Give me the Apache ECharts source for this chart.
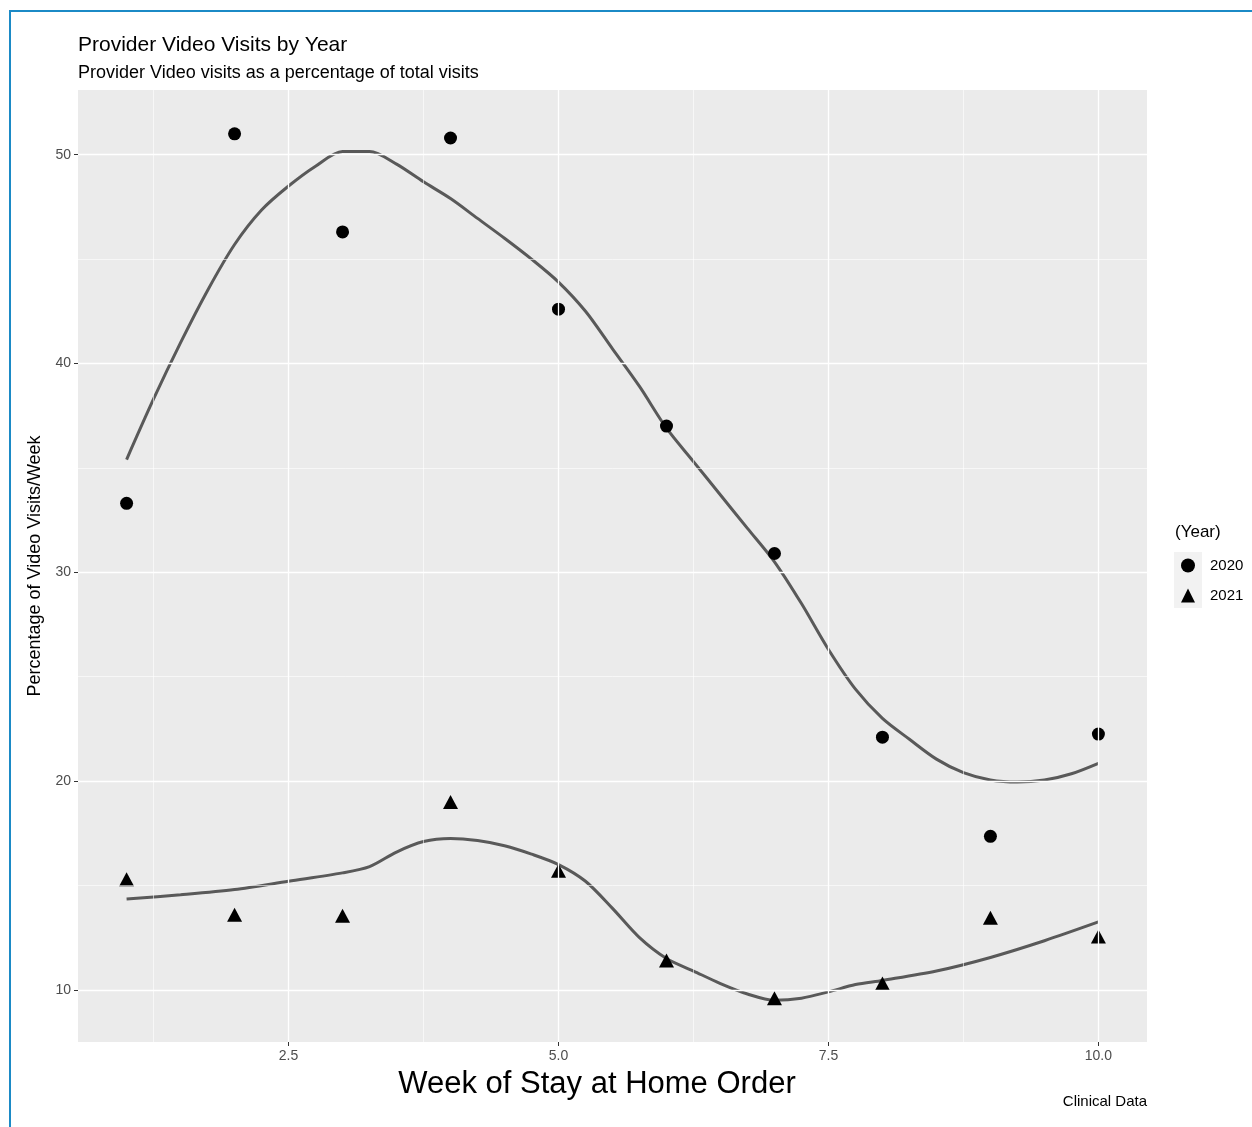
<!DOCTYPE html>
<html>
<head>
<meta charset="utf-8">
<script src="https://cdn.jsdelivr.net/npm/echarts@6/dist/echarts.min.js"></script>
<style>
html,body{margin:0;padding:0;background:#fff;}
#chart{width:1252px;height:1127px;}
</style>
</head>
<body>
<div id="chart"></div>
<script>
// ---- data ----
var weeks = [1, 2, 3, 4, 5, 6, 7, 8, 9, 10];
var visits2020 = [33.3, 51.0, 46.3, 50.8, 42.6, 37.0, 30.9, 22.1, 17.35, 22.25];
var visits2021 = [15.3, 13.6, 13.55, 19.0, 15.7, 11.4, 9.6, 10.3, 13.45, 12.55];

var smoothX2020 = [1.0, 1.25, 1.5, 1.75, 2.0, 2.25, 2.5, 2.75, 3.0, 3.25, 3.5, 3.75, 4.0, 4.25, 4.5, 4.75, 5.0, 5.25, 5.5, 5.75, 6.0, 6.25, 6.5, 6.75, 7.0, 7.25, 7.5, 7.75, 8.0, 8.25, 8.5, 8.75, 9.0, 9.25, 9.5, 9.75, 10.0];
var smoothY2020 = [35.4, 38.3, 41.0, 43.5, 45.7, 47.35, 48.5, 49.45, 50.15, 50.15, 49.55, 48.7, 47.9, 46.95, 46.0, 45.0, 43.9, 42.5, 40.7, 38.9, 36.9, 35.3, 33.7, 32.1, 30.5, 28.5, 26.3, 24.4, 23.0, 22.0, 21.05, 20.4, 20.05, 19.95, 20.05, 20.35, 20.85];

var smoothX2021 = [1.0, 1.5, 2.0, 2.5, 3.0, 3.25, 3.5, 3.75, 4.0, 4.25, 4.5, 4.75, 5.0, 5.25, 5.5, 5.75, 6.0, 6.25, 6.5, 6.75, 7.0, 7.25, 7.5, 7.75, 8.0, 8.5, 9.0, 9.5, 10.0];
var smoothY2021 = [14.35, 14.55, 14.8, 15.2, 15.6, 15.9, 16.6, 17.1, 17.25, 17.15, 16.9, 16.5, 16.0, 15.2, 13.9, 12.5, 11.5, 10.9, 10.3, 9.8, 9.5, 9.6, 9.9, 10.25, 10.45, 10.9, 11.55, 12.35, 13.25];

var xTicks = [2.5, 5.0, 7.5, 10.0];
var xMinor = [1.25, 3.75, 6.25, 8.75];
var yTicks = [10, 20, 30, 40, 50];
var yMinor = [15, 25, 35, 45];

var legendNames = ['2020', '2021'];
// ---------------

function zip(a, b) { return a.map(function (v, i) { return [v, b[i]]; }); }

var FONT = '"Liberation Sans", Arial, Helvetica, sans-serif';
var gridLeft = 78, gridTop = 90, gridRight = 105, gridBottom = 85;

var chart = echarts.init(document.getElementById('chart'), null, { renderer: 'canvas' });

var gridLines = []
  .concat(xMinor.map(function (v) { return { xAxis: v, lineStyle: { width: 0.6 } }; }))
  .concat(yMinor.map(function (v) { return { yAxis: v, lineStyle: { width: 0.6 } }; }))
  .concat(xTicks.map(function (v) { return { xAxis: v, lineStyle: { width: 1.3 } }; }))
  .concat(yTicks.map(function (v) { return { yAxis: v, lineStyle: { width: 1.3 } }; }));

var option = {
  backgroundColor: '#ffffff',
  animation: false,
  textStyle: { fontFamily: FONT },
  title: [
    { text: 'Provider Video Visits by Year', left: 78, top: 35, padding: 0,
      textStyle: { fontFamily: FONT, fontSize: 21, fontWeight: 'normal', color: '#000' } },
    { text: 'Provider Video visits as a percentage of total visits', left: 78, top: 64, padding: 0,
      textStyle: { fontFamily: FONT, fontSize: 18, fontWeight: 'normal', color: '#000' } }
  ],
  grid: { left: gridLeft, top: gridTop, right: gridRight, bottom: gridBottom,
    show: true, backgroundColor: '#EBEBEB', borderWidth: 0, containLabel: false },
  legend: {
    data: [
      { name: '2020', icon: 'circle' },
      { name: '2021', icon: 'triangle' }
    ],
    orient: 'vertical', left: 1181, top: 558, padding: 0,
    itemWidth: 14, itemHeight: 14, itemGap: 15,
    textStyle: { fontFamily: FONT, fontSize: 15, color: '#000', padding: [0, 0, 0, 10] },
    selectedMode: false
  },
  xAxis: {
    type: 'value', min: 0.55, max: 10.45,
    splitLine: { show: false },
    axisLine: { show: false },
    axisTick: { show: true, customValues: xTicks, length: 4, lineStyle: { color: '#333', width: 1 } },
    axisLabel: { customValues: xTicks, color: '#4D4D4D', fontSize: 14, margin: 7, fontFamily: FONT,
      formatter: function (v) { return v.toFixed(1); } }
  },
  yAxis: {
    type: 'value', min: 7.5, max: 53.1,
    name: 'Percentage of Video Visits/Week', nameLocation: 'middle', nameGap: 29,
    nameTextStyle: { fontFamily: FONT, fontSize: 18, color: '#000' },
    splitLine: { show: false },
    axisLine: { show: false },
    axisTick: { show: true, customValues: yTicks, length: 4, lineStyle: { color: '#333', width: 1 } },
    axisLabel: { customValues: yTicks, color: '#4D4D4D', fontSize: 14, margin: 7, fontFamily: FONT }
  },
  graphic: [
    { type: 'line', shape: { x1: 10, y1: 11, x2: 1252, y2: 11 }, style: { stroke: '#1B8AC6', lineWidth: 2 }, silent: true },
    { type: 'line', shape: { x1: 10, y1: 10, x2: 10, y2: 1127 }, style: { stroke: '#1B8AC6', lineWidth: 2 }, silent: true },
    { type: 'rect', shape: { x: 1174, y: 552, width: 28, height: 56 }, style: { fill: '#F2F2F2' }, z: -1, silent: true },
    { type: 'text', left: 1175, top: 524, style: { text: '(Year)', fontFamily: FONT, fontSize: 17, fill: '#000' }, silent: true },
    { type: 'text', x: 597, y: 1084, style: { text: 'Week of Stay at Home Order', fontFamily: FONT, fontSize: 31, fill: '#000', textAlign: 'center', textVerticalAlign: 'middle' }, silent: true },
    { type: 'text', x: 1147, y: 1102, style: { text: 'Clinical Data', fontFamily: FONT, fontSize: 15, fill: '#000', textAlign: 'right', textVerticalAlign: 'middle' }, silent: true }
  ],
  series: [
    {
      name: 'grid', type: 'line', data: [], z: 1, silent: true,
      markLine: {
        silent: true, symbol: ['none', 'none'], label: { show: false },
        lineStyle: { color: '#ffffff', type: 'solid' },
        emphasis: { disabled: true },
        animation: false,
        data: gridLines
      }
    },
    {
      name: 'loess2020', type: 'line', data: zip(smoothX2020, smoothY2020), smooth: 0.3,
      showSymbol: false, symbol: 'none', z: 3, silent: true,
      lineStyle: { color: '#595959', width: 3 }
    },
    {
      name: 'loess2021', type: 'line', data: zip(smoothX2021, smoothY2021), smooth: 0.3,
      showSymbol: false, symbol: 'none', z: 3, silent: true,
      lineStyle: { color: '#595959', width: 3 }
    },
    {
      name: '2020', type: 'scatter', data: zip(weeks, visits2020), symbol: 'circle', symbolSize: 13, z: 4,
      itemStyle: { color: '#000', opacity: 1 }
    },
    {
      name: '2021', type: 'scatter', data: zip(weeks, visits2021), symbol: 'triangle', symbolSize: [15, 14], z: 4,
      itemStyle: { color: '#000', opacity: 1 }
    }
  ]
};
chart.setOption(option);
</script>
</body>
</html>
